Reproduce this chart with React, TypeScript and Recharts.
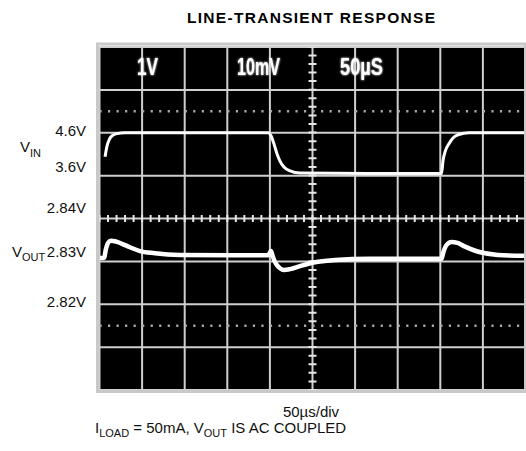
import React from 'react';
import {
  ComposedChart,
  XAxis,
  YAxis,
  Line,
  CartesianGrid,
  ReferenceLine,
} from 'recharts';

// time base: 50us/div, 10 divisions across the screen
const timeTicks = [0, 50, 100, 150, 200, 250, 300, 350, 400, 450, 500];
// VIN graticule levels, 1V/div (8 divisions)
const vinTicks = [-1.4, -0.4, 0.6, 1.6, 2.6, 3.6, 4.6, 5.6, 6.6];

// VIN trace, 1V/div
const vinTimes = [
  6.5, 8.8, 11.2, 14.7, 20.5, 29.9, 118, 197.8, 201.3, 204.8, 208.3, 211.8,
  216.5, 223.6, 235.3, 320, 400, 401.5, 403.2, 406, 410, 414.9, 421.8, 433.6, 499.4,
];
const vinVolts = [
  4.04, 4.29, 4.43, 4.53, 4.58, 4.6, 4.6, 4.6, 4.53, 4.34, 4.11, 3.94,
  3.8, 3.71, 3.66, 3.65, 3.65, 3.65, 3.95, 4.18, 4.34, 4.48, 4.56, 4.6, 4.6,
];

// VOUT trace, 10mV/div, AC coupled
const voutTimes = [
  0.5, 5.3, 7.6, 10, 13.5, 18.2, 26.4, 35.8, 47.5, 65.1, 94.5, 153, 198,
  201.3, 203.6, 207.2, 211.9, 216.5, 223.6, 235.3, 252.9, 276.4, 317.5, 400,
  401.4, 403.7, 407.2, 413.1, 420.2, 428.4, 443.7, 467.6, 499.4,
];
const voutVolts = [
  2.8308, 2.8308, 2.8329, 2.8343, 2.8348, 2.8347, 2.8341, 2.8333, 2.8324,
  2.8319, 2.8315, 2.8314, 2.8314, 2.8324, 2.831, 2.8294, 2.8284, 2.828,
  2.8282, 2.8289, 2.8298, 2.8303, 2.8306, 2.8306, 2.8306, 2.8322, 2.8338,
  2.8345, 2.8343, 2.8335, 2.8323, 2.8315, 2.8313,
];

const vinData = vinTimes.map((t, i) => ({ t, v: vinVolts[i] }));
const voutData = voutTimes.map((t, i) => ({ t, v: voutVolts[i] }));

const font = '"Liberation Sans", Arial, Helvetica, sans-serif';

const Labels = () => (
  <svg
    width={526}
    height={451}
    style={{ position: 'absolute', left: 0, top: 0, pointerEvents: 'none' }}
  >
    <defs>
      <filter id="glow" x="-20%" y="-20%" width="140%" height="140%">
        <feGaussianBlur stdDeviation="1.2" result="b" />
        <feMerge>
          <feMergeNode in="b" />
          <feMergeNode in="SourceGraphic" />
        </feMerge>
      </filter>
    </defs>
    <rect x={97.5} y={44} width={428} height={347.5} fill="none" stroke="#c9c9c9" strokeWidth={3} />

    <text x={311} y={23} textAnchor="middle" fontFamily={font} fontWeight="bold" fontSize={15.5}
      textLength={248} lengthAdjust="spacing">
      LINE-TRANSIENT RESPONSE
    </text>

    <g fill="#fff" fontFamily={font} fontWeight="bold" fontSize={24} filter="url(#glow)">
      <text x={137} y={75} textLength={21} lengthAdjust="spacingAndGlyphs">1V</text>
      <text x={237} y={75} textLength={43} lengthAdjust="spacingAndGlyphs">10mV</text>
      <text x={340} y={75} textLength={43} lengthAdjust="spacingAndGlyphs">50µS</text>
    </g>

    <g fontFamily={font} fontSize={15} fill="#111">
      <text x={86} y={136} textAnchor="end">4.6V</text>
      <text x={20} y={152}>V<tspan fontSize={11} dy={5}>IN</tspan></text>
      <text x={86} y={172} textAnchor="end">3.6V</text>
      <text x={86} y={213} textAnchor="end">2.84V</text>
      <text x={12} y={257}>V<tspan fontSize={11} dy={4}>OUT</tspan></text>
      <text x={86} y={257} textAnchor="end">2.83V</text>
      <text x={86} y={307} textAnchor="end">2.82V</text>
      <text x={311} y={417} textAnchor="middle">50µs/div</text>
      <text x={95} y={433}>
        I<tspan fontSize={11} dy={4}>LOAD</tspan>
        <tspan dy={-4}> = 50mA, V</tspan>
        <tspan fontSize={11} dy={4}>OUT</tspan>
        <tspan dy={-4}> IS AC COUPLED</tspan>
      </text>
    </g>
  </svg>
);

const App = () => {
  return (
    <div style={{ position: 'absolute', left: 0, top: 0, width: 526, height: 451, background: '#fff' }}>
      <ComposedChart
        width={526}
        height={451}
        margin={{ top: 47, right: 0.5, bottom: 61, left: 99.5 }}
      >
        <XAxis type="number" dataKey="t" domain={[0, 500]} ticks={timeTicks} hide allowDataOverflow />
        <YAxis yAxisId="vin" type="number" domain={[-1.4, 6.6]} ticks={vinTicks} hide allowDataOverflow />
        <YAxis yAxisId="vout" type="number" domain={[2.8, 2.88]} hide allowDataOverflow />
        <CartesianGrid yAxisId="vin" fill="#000" fillOpacity={1} stroke="#cfcfcf" strokeWidth={2} />

        {/* dotted 10%/90% marker lines */}
        <ReferenceLine yAxisId="vin" y={5.1} stroke="#a8a8a8" strokeWidth={2.5} strokeDasharray="2.2 6.32" />
        <ReferenceLine yAxisId="vin" y={0.1} stroke="#a8a8a8" strokeWidth={2.5} strokeDasharray="2.2 6.32" />
        {/* center graticule minor ticks */}
        <ReferenceLine yAxisId="vin" y={2.6} stroke="#e6e6e6" strokeWidth={7} strokeDasharray="2 6.52" strokeDashoffset={1} />
        <ReferenceLine yAxisId="vin" x={250} stroke="#e6e6e6" strokeWidth={8} strokeDasharray="2 6.58" strokeDashoffset={1} />

        <Line
          yAxisId="vin"
          data={vinData}
          dataKey="v"
          type="monotone"
          stroke="#fff"
          strokeWidth={3}
          dot={false}
          isAnimationActive={false}
        />
        <Line
          yAxisId="vout"
          data={voutData}
          dataKey="v"
          type="monotone"
          stroke="#fff"
          strokeWidth={4.5}
          dot={false}
          isAnimationActive={false}
        />
      </ComposedChart>
      <Labels />
    </div>
  );
};

export default App;
